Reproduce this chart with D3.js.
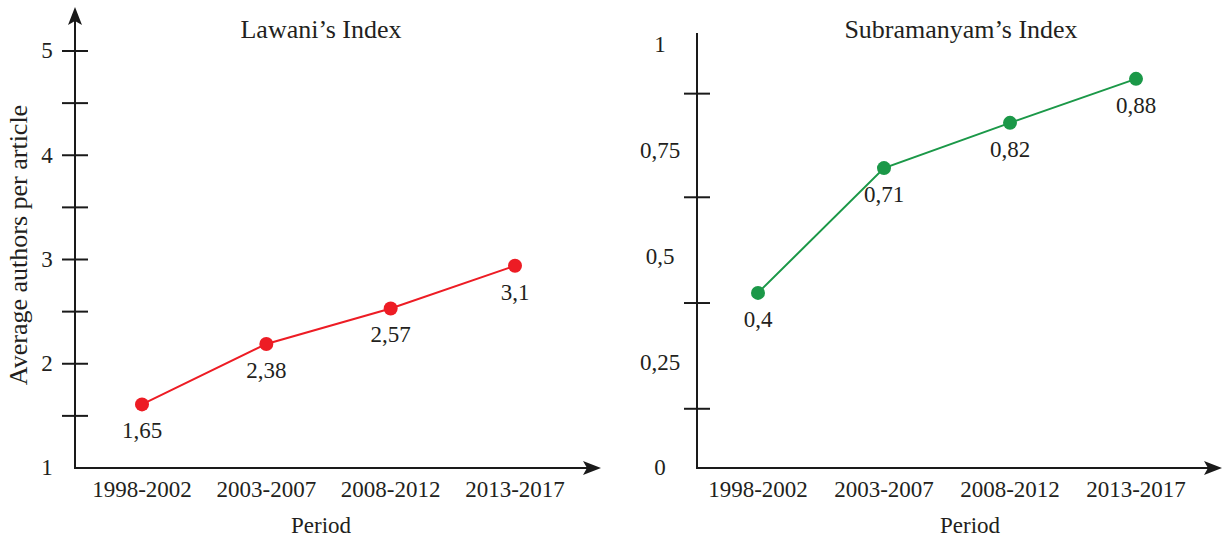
<!DOCTYPE html>
<html>
<head>
<meta charset="utf-8">
<script src="https://cdn.jsdelivr.net/npm/d3@7"></script>
<style>
  body { margin: 0; background: #fff; }
</style>
</head>
<body>
<svg id="chart" width="1226" height="540"></svg>
<script>
const W = 1226, H = 540;
const serif = "'Liberation Serif', 'Tinos', 'Times New Roman', 'DejaVu Serif', serif";

// categories
const periods = ['1998-2002', '2003-2007', '2008-2012', '2013-2017'];

// Lawani's index: plotted values and printed labels
const lawaniValues = [1.61, 2.19, 2.53, 2.94];
const lawaniLabels = ['1,65', '2,38', '2,57', '3,1'];
const lawaniTickLabels = [1, 2, 3, 4, 5];
const lawaniTickMarks = [1.5, 2, 2.5, 3, 3.5, 4, 4.5, 5];

// Subramanyam's index
const subraValues = [0.414, 0.709, 0.816, 0.92];
const subraLabels = ['0,4', '0,71', '0,82', '0,88'];
const subraTickLabels = [0, 0.25, 0.5, 0.75, 1];
const subraTickMarks = [0.14, 0.39, 0.64, 0.885];

const comma = v => String(v).replace('.', ',');

const svg = d3.select('#chart');
const ink = '#1a1a1a';
const txt = '#231f20';

function addText(g) {
    return g.attr('font-family', serif).attr('fill', txt);
}

function drawPanel(cfg) {
    const g = svg.append('g');

    const x = d3.scalePoint().domain(periods).range(cfg.xRange);
    const y = d3.scaleLinear().domain(cfg.yDomain).range(cfg.yRange);

    // y axis line (+ optional arrow, tip at yTop)
    g.append('line')
        .attr('x1', cfg.axisX).attr('x2', cfg.axisX)
        .attr('y1', cfg.axisY).attr('y2', cfg.yTop + (cfg.yArrow ? 8 : 0))
        .attr('stroke', ink).attr('stroke-width', 2);
    if (cfg.yArrow) {
        g.append('path')
            .attr('d', `M${cfg.axisX},${cfg.yTop} L${cfg.axisX - 7},${cfg.yTop + 18} L${cfg.axisX},${cfg.yTop + 14} L${cfg.axisX + 7},${cfg.yTop + 18} Z`)
            .attr('fill', ink);
    }

    // x axis line with arrow
    g.append('line')
        .attr('x1', cfg.axisX - 1).attr('x2', cfg.xEnd - 6)
        .attr('y1', cfg.axisY).attr('y2', cfg.axisY)
        .attr('stroke', ink).attr('stroke-width', 2);
    g.append('path')
        .attr('d', `M${cfg.xEnd},${cfg.axisY} L${cfg.xEnd - 18},${cfg.axisY - 7} L${cfg.xEnd - 14},${cfg.axisY} L${cfg.xEnd - 18},${cfg.axisY + 7} Z`)
        .attr('fill', ink);

    // tick marks crossing the axis
    g.selectAll('.tick').data(cfg.tickMarks).join('line')
        .attr('x1', cfg.axisX - 13).attr('x2', cfg.axisX + 13)
        .attr('y1', d => y(d)).attr('y2', d => y(d))
        .attr('stroke', ink).attr('stroke-width', 2);

    // tick labels
    g.selectAll('.tlab').data(cfg.tickLabels).join('text')
        .call(addText)
        .attr('x', cfg.labelX)
        .attr('y', d => y(d))
        .attr('dy', '0.32em')
        .attr('text-anchor', 'middle')
        .attr('font-size', 23)
        .text(d => comma(d));

    // category labels
    g.selectAll('.cat').data(periods).join('text')
        .call(addText)
        .attr('x', d => x(d))
        .attr('y', cfg.axisY + 29)
        .attr('text-anchor', 'middle')
        .attr('font-size', 23)
        .text(d => d);

    // x title
    g.append('text')
        .call(addText)
        .attr('x', cfg.periodX).attr('y', 533)
        .attr('text-anchor', 'middle')
        .attr('font-size', 23)
        .text('Period');

    // panel title
    g.append('text')
        .call(addText)
        .attr('x', cfg.titleX).attr('y', 38)
        .attr('text-anchor', 'middle')
        .attr('font-size', 26)
        .text(cfg.title);

    const pts = periods.map((p, i) => ({ p: p, v: cfg.values[i], lab: cfg.labels[i] }));

    g.append('path')
        .datum(pts)
        .attr('fill', 'none')
        .attr('stroke', cfg.color)
        .attr('stroke-width', 2)
        .attr('d', d3.line().x(d => x(d.p)).y(d => y(d.v)));

    g.selectAll('.pt').data(pts).join('circle')
        .attr('cx', d => x(d.p)).attr('cy', d => y(d.v))
        .attr('r', 7)
        .attr('fill', cfg.color);

    g.selectAll('.vlab').data(pts).join('text')
        .call(addText)
        .attr('x', d => x(d.p))
        .attr('y', d => y(d.v) + 34)
        .attr('text-anchor', 'middle')
        .attr('font-size', 23)
        .text(d => d.lab);
}

drawPanel({
    title: "Lawani\u2019s Index", titleX: 321,
    xRange: [142, 515], yDomain: [1, 5], yRange: [468, 51],
    axisX: 75, axisY: 468, yTop: 7, yArrow: true, xEnd: 601,
    labelX: 47, periodX: 321,
    tickMarks: lawaniTickMarks, tickLabels: lawaniTickLabels,
    values: lawaniValues, labels: lawaniLabels, color: '#ed1c24'
});

drawPanel({
    title: "Subramanyam\u2019s Index", titleX: 961,
    xRange: [758, 1136], yDomain: [0, 1], yRange: [468, 45],
    axisX: 697, axisY: 468, yTop: 33, yArrow: false, xEnd: 1222,
    labelX: 660, periodX: 970,
    tickMarks: subraTickMarks, tickLabels: subraTickLabels,
    values: subraValues, labels: subraLabels, color: '#1b9848'
});

// y axis title of the left panel
svg.append('text')
    .call(addText)
    .attr('transform', 'translate(27,245) rotate(-90)')
    .attr('text-anchor', 'middle')
    .attr('font-size', 26)
    .text('Average authors per article');
</script>
</body>
</html>
